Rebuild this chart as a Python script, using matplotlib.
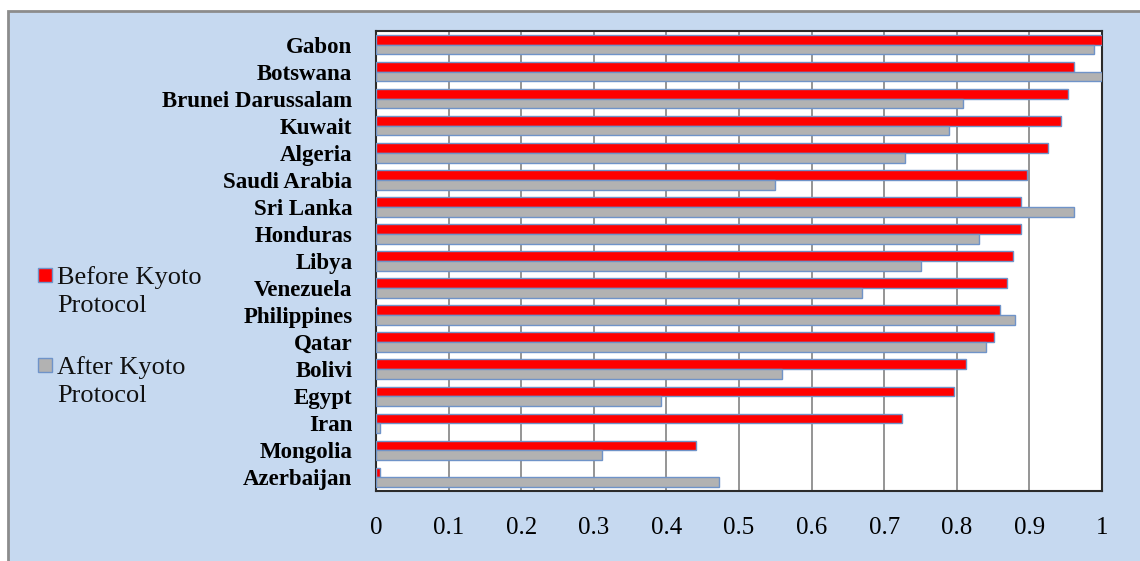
import matplotlib
matplotlib.use("Agg")
import matplotlib.pyplot as plt
from matplotlib.patches import Rectangle
import numpy as np

# Countries, top to bottom
countries = ["Gabon", "Botswana", "Brunei Darussalam", "Kuwait", "Algeria",
             "Saudi Arabia", "Sri Lanka", "Honduras", "Libya", "Venezuela",
             "Philippines", "Qatar", "Bolivi", "Egypt", "Iran", "Mongolia",
             "Azerbaijan"]

before_kyoto = [1.000, 0.961, 0.953, 0.944, 0.926, 0.897, 0.889, 0.889, 0.878,
                0.869, 0.860, 0.851, 0.813, 0.796, 0.725, 0.441, 0.005]
after_kyoto = [0.989, 1.000, 0.809, 0.789, 0.729, 0.549, 0.961, 0.830, 0.750,
               0.669, 0.880, 0.840, 0.559, 0.392, 0.005, 0.311, 0.472]

x_ticks = [0, 0.1, 0.2, 0.3, 0.4, 0.5, 0.6, 0.7, 0.8, 0.9, 1.0]
x_tick_labels = ["0", "0.1", "0.2", "0.3", "0.4", "0.5", "0.6", "0.7", "0.8", "0.9", "1"]

series_names = ["Before Kyoto\nProtocol", "After Kyoto\nProtocol"]
series_colors = ["#FF0000", "#B2B2B2"]

W, H = 1140, 561
BG = "#C6D9F0"
EDGE = "#6F93C8"
SERIF = ["Liberation Serif", "DejaVu Serif"]

fig = plt.figure(figsize=(W / 100, H / 100), dpi=100, facecolor="white")

# light-blue chart area with grey frame on top and left
fig.add_artist(Rectangle((8 / W, -0.5), 2.0, 1.5 - 11 / H, transform=fig.transFigure,
                         facecolor=BG, edgecolor="#8C8C8C", linewidth=2, zorder=-10))

ax = fig.add_axes([376 / W, 1 - 491 / H, (1102 - 376) / W, (491 - 31) / H])
ax.set_facecolor("white")

y = np.arange(len(countries))
h = 0.36
ax.barh(y - h / 2, before_kyoto, height=h, color=series_colors[0],
        edgecolor=EDGE, linewidth=1.0, zorder=3)
ax.barh(y + h / 2, after_kyoto, height=h, color=series_colors[1],
        edgecolor=EDGE, linewidth=1.0, zorder=3)

ax.set_xlim(0, 1)
ax.set_ylim(len(countries) - 0.5, -0.5)
ax.set_xticks(x_ticks)
ax.set_xticklabels(x_tick_labels, fontfamily=SERIF, fontsize=18)
ax.set_yticks(y)
ax.set_yticklabels(countries, fontfamily=SERIF, fontsize=16.5, fontweight="bold")
ax.tick_params(axis="x", length=0, pad=19)
ax.tick_params(axis="y", length=0, pad=17)

ax.grid(axis="x", color="#8C8C8C", linewidth=1.3, zorder=1)
ax.set_axisbelow(True)
for side in ["top", "right", "bottom", "left"]:
    ax.spines[side].set_color("#2B2B2B")
    ax.spines[side].set_linewidth(1.5)

# legend on the left
legend_rows = [(268, 284), (358, 374)]
for (box_top, baseline), name, col in zip(legend_rows, series_names, series_colors):
    fig.add_artist(Rectangle((38 / W, 1 - (box_top + 14) / H), 14 / W, 14 / H,
                             transform=fig.transFigure, facecolor=col,
                             edgecolor=EDGE, linewidth=1.0))
    first, second = name.split("\n")
    fig.text(57 / W, 1 - baseline / H, first, fontfamily=SERIF, fontsize=19,
             va="baseline", ha="left", color="#111111")
    fig.text(57 / W, 1 - (baseline + 28) / H, second, fontfamily=SERIF, fontsize=19,
             va="baseline", ha="left", color="#111111")

fig.savefig("out.png", dpi=100, facecolor=fig.get_facecolor())
